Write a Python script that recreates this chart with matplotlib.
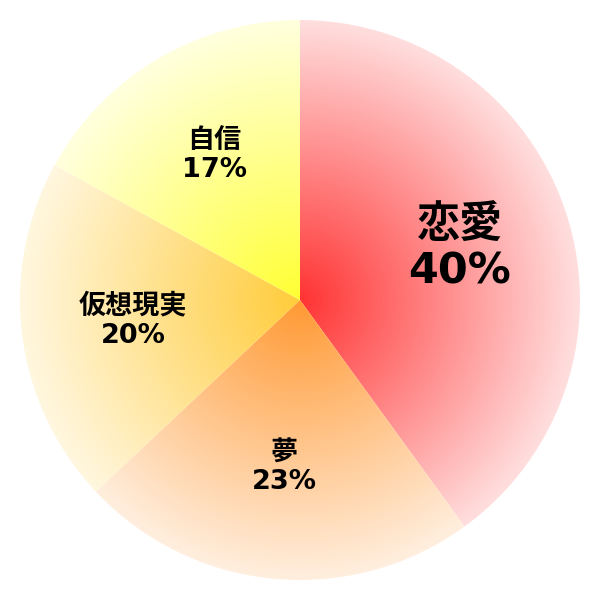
import numpy as np
import matplotlib
matplotlib.use("Agg")
import matplotlib.pyplot as plt
from matplotlib.colors import to_rgb

categories = ["恋愛", "夢", "仮想現実", "自信"]
values = [40, 23, 20, 17]
center_colors = ["#ff3333", "#ff9933", "#ffcc3a", "#ffff33"]
fontsizes = [31, 19.5, 19.5, 19.5]

fig = plt.figure(figsize=(6, 6), dpi=100)
ax = fig.add_axes([0, 0, 1, 1])
lim = 300 / 280
ax.set_xlim(-lim, lim)
ax.set_ylim(-lim, lim)
ax.set_aspect("equal")
ax.axis("off")

labels = [f"{c}\n{v}%" for c, v in zip(categories, values)]
wedges, texts = ax.pie(values, labels=labels, startangle=90, counterclock=False,
                       radius=1, labeldistance=0.6,
                       wedgeprops=dict(facecolor="none", edgecolor="none"),
                       textprops=dict(ha="center", va="center", fontweight="bold",
                                      family=["DejaVu Sans", "Noto Sans CJK JP"],
                                      linespacing=1.15))

n = 700
xs = np.linspace(-1, 1, n)
X, Y = np.meshgrid(xs, xs)
R = np.clip(np.sqrt(X**2 + Y**2), 0, 1)[..., None]
white = np.array([1.0, 1.0, 1.0])
for w, col in zip(wedges, center_colors):
    c = np.array(to_rgb(col))
    edge = c * 0.16 + white * 0.84
    img = c + (edge - c) * R
    im = ax.imshow(img, extent=[-1, 1, -1, 1], origin="lower", zorder=1,
                   interpolation="bilinear")
    im.set_clip_path(w)

for t, fs in zip(texts, fontsizes):
    t.set_fontsize(fs)
    t.set_zorder(5)

ax.set_xlim(-lim, lim)
ax.set_ylim(-lim, lim)
fig.savefig("out.png", dpi=100)
